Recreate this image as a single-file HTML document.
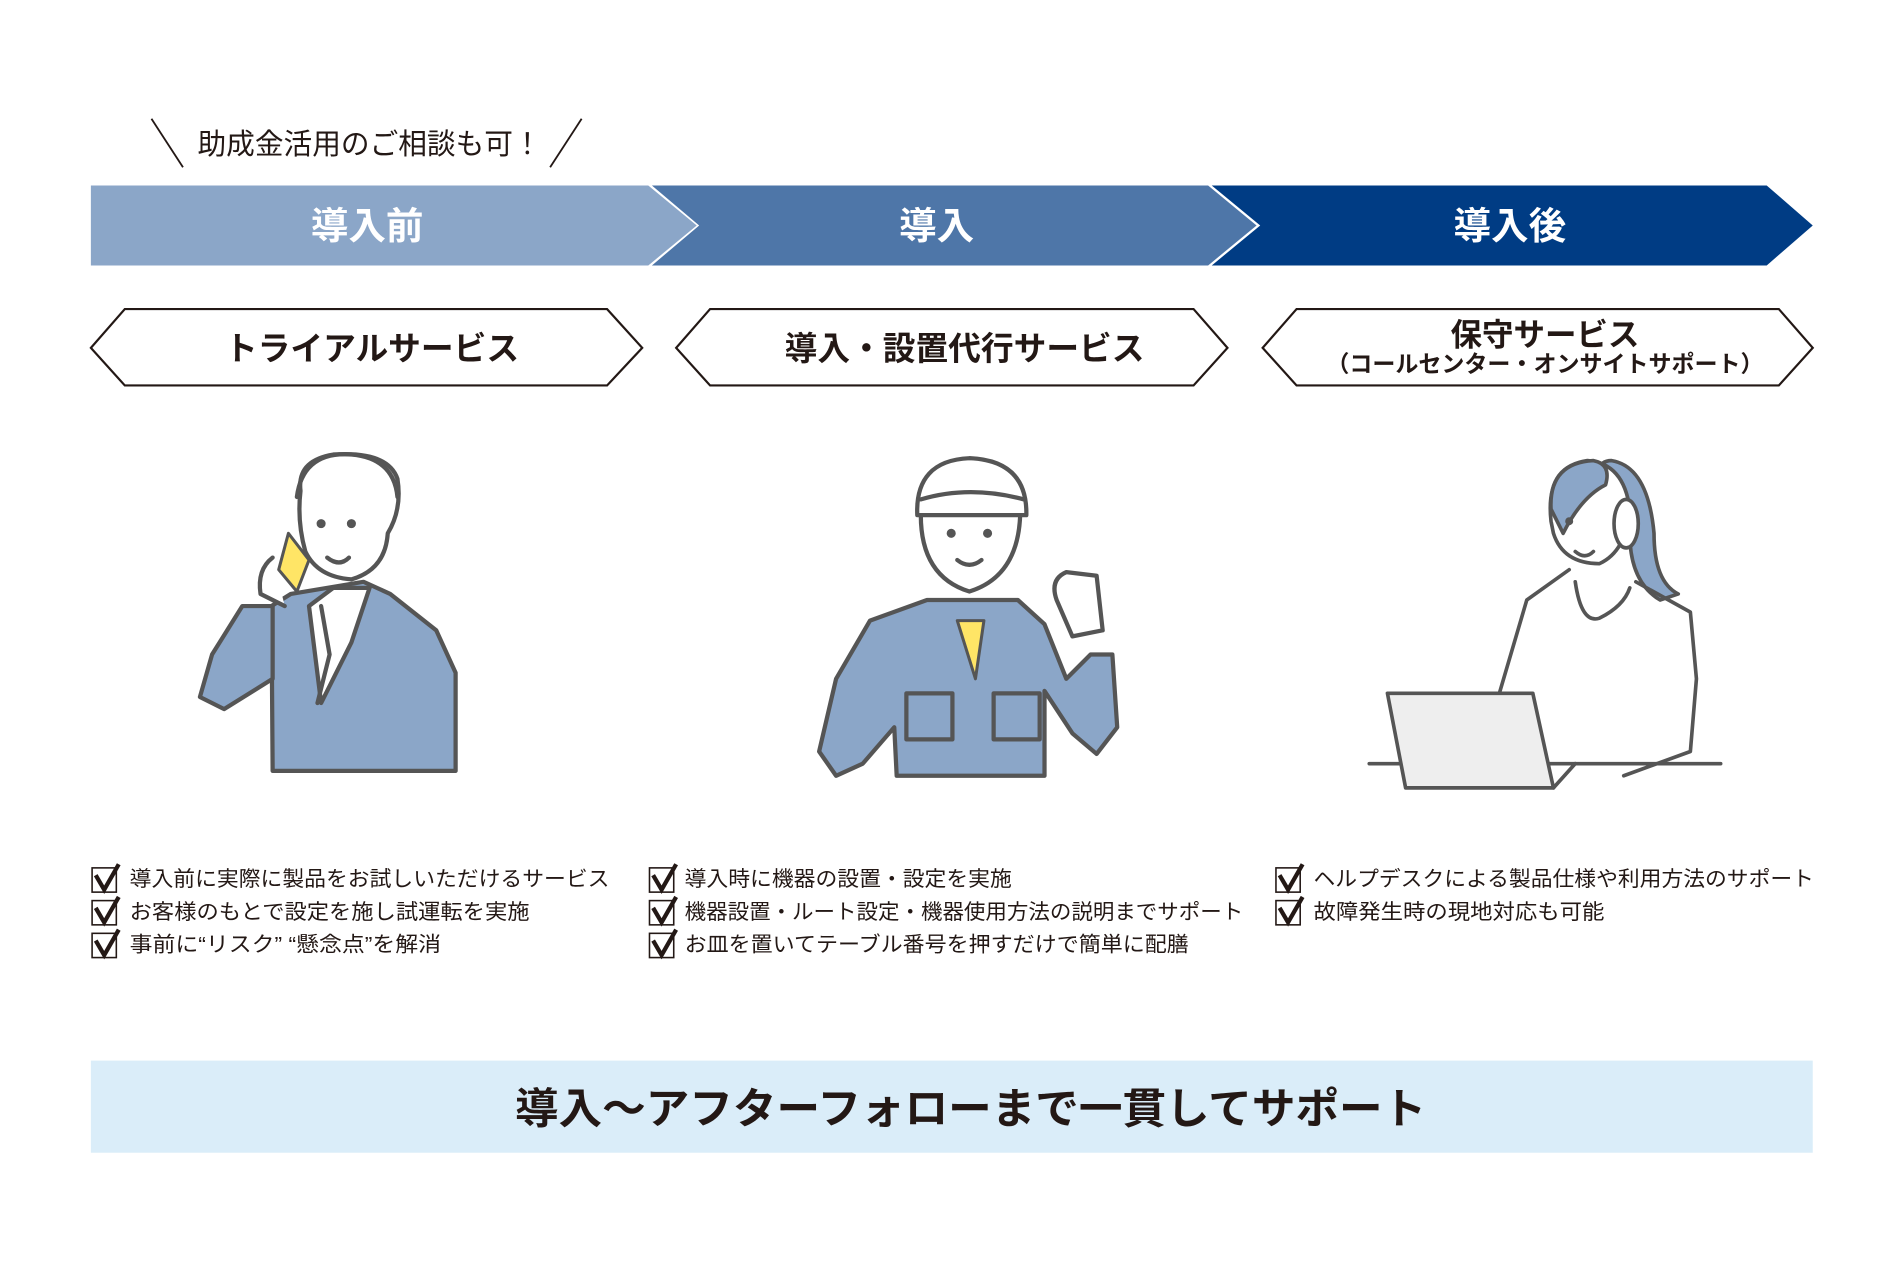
<!DOCTYPE html>
<html><head><meta charset="utf-8"><style>
html,body{margin:0;padding:0;background:#fff;width:1900px;height:1280px;overflow:hidden}
svg{display:block}
text{font-family:"Liberation Sans","Noto Sans CJK JP",sans-serif}
</style></head><body>
<svg width="1900" height="1280" viewBox="0 0 1568 1056" preserveAspectRatio="none" xmlns="http://www.w3.org/2000/svg">
<!-- callout -->
<line x1="125" y1="98" x2="151" y2="138" stroke="#231815" stroke-width="1.5"/>
<line x1="480" y1="98" x2="454" y2="138" stroke="#231815" stroke-width="1.5"/>
<text x="305" y="127" font-size="24" text-anchor="middle" fill="#231815" textLength="284" lengthAdjust="spacingAndGlyphs">助成金活用のご相談も可！</text>
<!-- chevrons -->
<polygon points="75,153 535,153 575,186 535,219 75,219" fill="#8ba6c8"/>
<polygon points="538,153 997,153 1037,186 997,219 538,219 577,186" fill="#4e76a8"/>
<polygon points="1000,153 1458,153 1496,186 1458,219 1000,219 1040,186" fill="#003c84"/>
<g font-size="31" font-weight="bold" fill="#fff" text-anchor="middle">
<text x="303" y="197">導入前</text><text x="773" y="197">導入</text><text x="1246" y="197">導入後</text></g>
<!-- hex boxes -->
<g fill="#fff" stroke="#231815" stroke-width="1.8">
<polygon points="103,255 501,255 530,287 501,318 103,318 75,287"/>
<polygon points="586,255 985,255 1013,287 985,318 586,318 558,287"/>
<polygon points="1070,255 1468,255 1496,287 1468,318 1070,318 1042,287"/>
</g>
<g font-weight="bold" fill="#231815" text-anchor="middle">
<text x="307" y="297" font-size="27">トライアルサービス</text>
<text x="796" y="297" font-size="27">導入・設置代行サービス</text>
<text x="1275" y="285" font-size="26">保守サービス</text>
<text x="1275" y="307" font-size="19">（コールセンター・オンサイトサポート）</text>
</g>
<!-- person 1 -->
<g stroke="#555" stroke-width="3.5" stroke-linecap="round" stroke-linejoin="round">
<path d="M225,636 L224,500 L240,490 L300,480 L322,490 L360,520 L376,555 L376,636 Z" fill="#8ba6c8"/>
<path d="M225,500 L200,500 L175,540 L165,575 L185,585 L225,560 Z" fill="#8ba6c8"/>
<path d="M255,500 L275,485 L305,485 L290,530 L265,580 Z" fill="#fff"/>
<path d="M265,500 L272,540 L262,580" fill="none"/>
<path d="M248,405 Q245,380 275,375 Q320,372 328,395 Q332,420 320,440 Q318,470 290,478 Q262,476 252,455 Q245,430 248,405 Z" fill="#fff"/>
<path d="M245,410 Q250,372 290,375 Q325,378 328,410" fill="none"/>
<path d="M238,440 L255,462 L245,488 L230,470 Z" fill="#ffe566" stroke-width="2.5"/>
<path d="M225,460 Q212,470 215,490 L235,500" fill="#fff"/>
<circle cx="265" cy="432" r="2" fill="#555"/><circle cx="290" cy="432" r="2" fill="#555"/>
<path d="M270,460 Q280,468 288,460" fill="none"/>
</g>
<!-- person 2 -->
<g stroke="#555" stroke-width="3.5" stroke-linecap="round" stroke-linejoin="round">
<path d="M718,512 L765,495 L840,495 L862,515 L880,560 L900,540 L918,540 L922,600 L905,622 L885,605 L862,570 L862,640 L740,640 L738,600 L712,630 L690,640 L676,620 L690,560 Z" fill="#8ba6c8"/>
<path d="M790,512 L805,560 L812,512 Z" fill="#ffe566" stroke-width="2.5"/>
<rect x="748" y="572" width="38" height="38" fill="#8ba6c8"/>
<rect x="820" y="572" width="38" height="38" fill="#8ba6c8"/>
<path d="M760,420 Q758,475 800,488 Q842,475 842,420 Z" fill="#fff"/>
<path d="M757,425 Q755,380 800,378 Q848,380 847,425 Z" fill="#fff"/>
<path d="M760,412 Q800,400 845,412" fill="none"/>
<path d="M872,495 Q866,478 880,472 L905,475 L910,520 L885,525 Z" fill="#fff"/>
<circle cx="785" cy="440" r="2" fill="#555"/><circle cx="815" cy="440" r="2" fill="#555"/>
<path d="M790,462 Q800,470 810,462" fill="none"/>
</g>
<!-- person 3 -->
<g stroke="#555" stroke-width="3" stroke-linecap="round" stroke-linejoin="round">
<path d="M1320,415 Q1312,380 1330,380 Q1360,385 1365,440 Q1365,480 1385,490 L1370,495 Q1345,480 1345,440 Z" fill="#8ba6c8"/>
<path d="M1280,430 Q1275,385 1310,380 Q1340,382 1345,420 Q1342,455 1320,465 Q1290,465 1282,440 Z" fill="#fff"/>
<path d="M1280,420 Q1278,382 1315,380 Q1330,383 1325,400 Q1305,410 1290,440 Z" fill="#8ba6c8"/>
<ellipse cx="1342" cy="432" rx="10" ry="20" fill="#fff"/>
<path d="M1295,470 L1260,495 L1235,580 M1350,480 L1395,505 L1400,560 L1395,620 L1340,640 M1300,480 Q1305,515 1320,510 Q1340,500 1345,485" fill="none"/>
<line x1="1130" y1="630" x2="1420" y2="630"/>
<path d="M1145,572 L1265,572 L1282,650 L1160,650 Z" fill="#eee"/>
<path d="M1282,650 L1300,630" fill="none"/>
<circle cx="1295" cy="430" r="1.8" fill="#555"/>
<path d="M1300,455 Q1308,462 1315,455" fill="none"/>
</g>
<!-- checklists -->
<g font-size="17.5" fill="#231815">
<text x="107" y="731" textLength="396" lengthAdjust="spacingAndGlyphs">導入前に実際に製品をお試しいただけるサービス</text>
<text x="107" y="758" textLength="330" lengthAdjust="spacingAndGlyphs">お客様のもとで設定を施し試運転を実施</text>
<text x="107" y="785" textLength="257" lengthAdjust="spacingAndGlyphs">事前に“リスク” “懸念点”を解消</text>
<text x="565" y="731" textLength="270" lengthAdjust="spacingAndGlyphs">導入時に機器の設置・設定を実施</text>
<text x="565" y="758" textLength="461" lengthAdjust="spacingAndGlyphs">機器設置・ルート設定・機器使用方法の説明までサポート</text>
<text x="565" y="785" textLength="416" lengthAdjust="spacingAndGlyphs">お皿を置いてテーブル番号を押すだけで簡単に配膳</text>
<text x="1084" y="731" textLength="413" lengthAdjust="spacingAndGlyphs">ヘルプデスクによる製品仕様や利用方法のサポート</text>
<text x="1084" y="758" textLength="240" lengthAdjust="spacingAndGlyphs">故障発生時の現地対応も可能</text>
</g>
<g stroke="#231815" fill="none">
<g stroke-width="1.3">
<rect x="76" y="716" width="20" height="20"/><rect x="76" y="743" width="20" height="20"/><rect x="76" y="770" width="20" height="20"/>
<rect x="536" y="716" width="20" height="20"/><rect x="536" y="743" width="20" height="20"/><rect x="536" y="770" width="20" height="20"/>
<rect x="1053" y="716" width="20" height="20"/><rect x="1053" y="743" width="20" height="20"/>
</g>
<g stroke-width="3.5">
<path d="M79,722 L86,734 L98,713"/><path d="M79,749 L86,761 L98,740"/><path d="M79,776 L86,788 L98,767"/>
<path d="M539,722 L546,734 L558,713"/><path d="M539,749 L546,761 L558,740"/><path d="M539,776 L546,788 L558,767"/>
<path d="M1056,722 L1063,734 L1075,713"/><path d="M1056,749 L1063,761 L1075,740"/>
</g></g>
<!-- bottom band -->
<rect x="75" y="875" width="1421" height="76" fill="#daedf9"/>
<text x="801" y="927" font-size="35" font-weight="bold" fill="#231815" text-anchor="middle" textLength="752" lengthAdjust="spacingAndGlyphs">導入～アフターフォローまで一貫してサポート</text>
</svg>
</body></html>
